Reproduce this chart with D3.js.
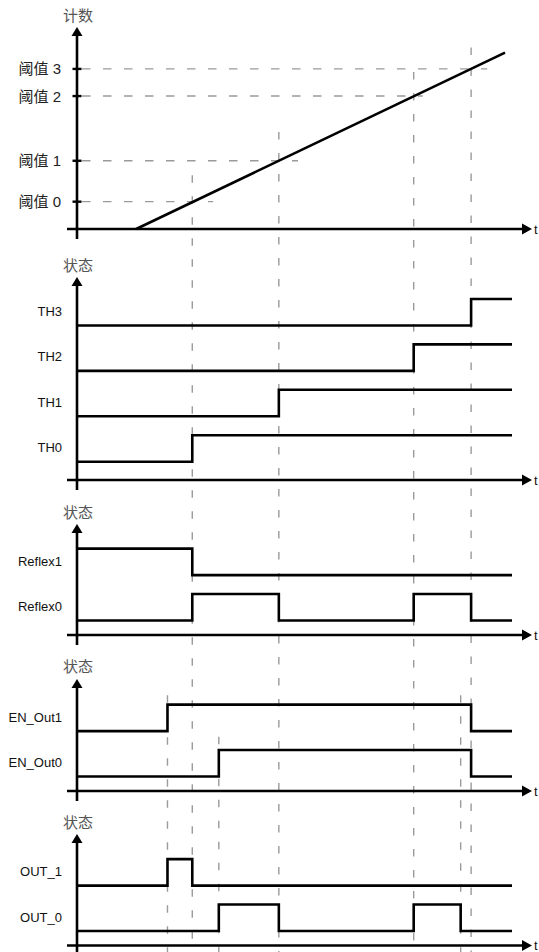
<!DOCTYPE html>
<html>
<head>
<meta charset="utf-8">
<script src="https://cdn.jsdelivr.net/npm/d3@7"></script>
<style>
  html, body { margin: 0; padding: 0; background: #fff; }
  svg { display: block; }
  text { font-family: "Liberation Sans", Arial, "Noto Sans CJK SC", sans-serif; }
</style>
</head>
<body>
<svg id="chart" width="539" height="952"></svg>
<script>
// ---------------- DATA (time in abstract units 0..100) ----------------
const timeDomain = [0, 100];
const countDomain = [0, 10];

const thresholdLabels = ["阈值 0", "阈值 1", "阈值 2", "阈值 3"];
const thresholdCounts = [1.55, 3.87, 7.54, 9.08];
const thresholdDashEnds = [31.3, 50.8, 79.5, 94.3];

const rampTimes = [13.6, 98.4];
const rampCounts = [0, 10];

// event times
const tTH0 = 26.5, tTH1 = 46.4, tTH2 = 77.4, tTH3 = 90.6;
const tEn1 = 20.8, tEn0 = 32.6, tOut0End = 88.2;

// vertical guides: time, top (count units for top panel guides)
const guideTopTimes = [tTH0, tTH1, tTH2, tTH3];
const guideTopCounts = [3.05, 5.5, 8.9, 10.3];
// guides that start in the EN panel: time, row index, level above
const guideEnTimes = [tEn1, tEn0, tOut0End];
const guideEnRows = [1, 0, 1];
const guideEnLevels = [1.35, 1.5, 1.35];

const thNames = ["TH0", "TH1", "TH2", "TH3"];
const thSteps = [
  [[0, 0], [tTH0, 1]],
  [[0, 0], [tTH1, 1]],
  [[0, 0], [tTH2, 1]],
  [[0, 0], [tTH3, 1]]
];
const reflexNames = ["Reflex0", "Reflex1"];
const reflexSteps = [
  [[0, 0], [tTH0, 1], [tTH1, 0], [tTH2, 1], [tTH3, 0]],
  [[0, 1], [tTH0, 0]]
];
const enNames = ["EN_Out0", "EN_Out1"];
const enSteps = [
  [[0, 0], [tEn0, 1], [tTH3, 0]],
  [[0, 0], [tEn1, 1], [tTH3, 0]]
];
const outNames = ["OUT_0", "OUT_1"];
const outSteps = [
  [[0, 0], [tEn0, 1], [tTH1, 0], [tTH2, 1], [tOut0End, 0]],
  [[0, 0], [tEn1, 1], [tTH0, 0]]
];

const countTitle = "计数";
const stateTitle = "状态";
const axisEndLabel = "t";

// ---------------- LAYOUT ----------------
const svg = d3.select("#chart");
const x = d3.scaleLinear().domain(timeDomain).range([77, 512]);
const yCount = d3.scaleLinear().domain(countDomain).range([229, 52.7]);

const panels = [
  { title: countTitle, titleY: 15, tip: 27, axisY: 229, bottom: 239 },
  { title: stateTitle, titleY: 265, tip: 277, axisY: 480, bottom: 490, firstLow: 461.7, names: thNames, steps: thSteps },
  { title: stateTitle, titleY: 512, tip: 524, axisY: 635, bottom: 645, firstLow: 620.5, names: reflexNames, steps: reflexSteps },
  { title: stateTitle, titleY: 666, tip: 679, axisY: 791, bottom: 801, firstLow: 776.5, names: enNames, steps: enSteps },
  { title: stateTitle, titleY: 822, tip: 834, axisY: 945.5, bottom: 962, firstLow: 931, names: outNames, steps: outSteps }
];
const rowStep = 45.4, amp = 26.5;
panels.forEach(p => {
  if (p.names) {
    p.row = d3.scaleLinear().domain([0, 1]).range([p.firstLow, p.firstLow - rowStep]);
    p.level = (r, v) => p.row(r) - v * amp;
  }
});

const dashColor = "#9a9a9a";
const gGuides = svg.append("g");

// horizontal threshold dashes
gGuides.selectAll("line.th").data(thresholdCounts).join("line")
  .attr("x1", x(0) + 5).attr("x2", (d, i) => x(thresholdDashEnds[i]))
  .attr("y1", d => yCount(d)).attr("y2", d => yCount(d))
  .attr("stroke", dashColor).attr("stroke-width", 1.4)
  .attr("stroke-dasharray", "8.5,12.5");

// vertical guides from top panel
gGuides.selectAll("line.vt").data(guideTopTimes).join("line")
  .attr("x1", d => x(d)).attr("x2", d => x(d))
  .attr("y1", (d, i) => yCount(guideTopCounts[i])).attr("y2", 952)
  .attr("stroke", dashColor).attr("stroke-width", 1.4)
  .attr("stroke-dasharray", "7.5,13.5");

// vertical guides from EN panel
const enP = panels[3];
gGuides.selectAll("line.ve").data(guideEnTimes).join("line")
  .attr("x1", d => x(d)).attr("x2", d => x(d))
  .attr("y1", (d, i) => enP.level(guideEnRows[i], guideEnLevels[i])).attr("y2", 952)
  .attr("stroke", dashColor).attr("stroke-width", 1.4)
  .attr("stroke-dasharray", "7.5,13.5");

// ramp
const rampLine = d3.line().x(d => x(d[0])).y(d => yCount(d[1]));
svg.append("path")
  .attr("d", rampLine(rampTimes.map((t, i) => [t, rampCounts[i]])))
  .attr("fill", "none").attr("stroke", "#000").attr("stroke-width", 2.6);

// threshold ticks + labels
svg.selectAll("line.tk").data(thresholdCounts).join("line")
  .attr("x1", x(0) - 4.5).attr("x2", x(0) + 4.5)
  .attr("y1", d => yCount(d)).attr("y2", d => yCount(d))
  .attr("stroke", "#000").attr("stroke-width", 2.4);
svg.selectAll("text.tl").data(thresholdLabels).join("text")
  .attr("x", 61).attr("y", (d, i) => yCount(thresholdCounts[i]))
  .attr("text-anchor", "end").attr("dominant-baseline", "central")
  .attr("font-size", 15).attr("fill", "#222")
  .text(d => d);

// signals
const stepLine = d3.line().curve(d3.curveStepAfter);
panels.forEach(p => {
  if (!p.names) return;
  p.names.forEach((name, r) => {
    const st = p.steps[r];
    const pts = st.concat([[timeDomain[1], st[st.length - 1][1]]]);
    svg.append("path")
      .attr("d", stepLine(pts.map(d => [x(d[0]), p.level(r, d[1])])))
      .attr("fill", "none").attr("stroke", "#000").attr("stroke-width", 2.6)
      .attr("stroke-linejoin", "miter");
    svg.append("text")
      .attr("x", 62).attr("y", p.level(r, 0) - 14)
      .attr("text-anchor", "end").attr("dominant-baseline", "central")
      .attr("font-size", 13).attr("fill", "#111")
      .text(name);
  });
});

// axes
panels.forEach(p => {
  const ax = x(0);
  svg.append("line").attr("x1", ax).attr("x2", ax)
    .attr("y1", p.tip + 7).attr("y2", p.bottom)
    .attr("stroke", "#000").attr("stroke-width", 2.6);
  svg.append("path")
    .attr("d", `M${ax},${p.tip} L${ax - 5.5},${p.tip + 9} L${ax + 5.5},${p.tip + 9} Z`)
    .attr("fill", "#000");
  svg.append("line").attr("x1", ax - 10).attr("x2", 524)
    .attr("y1", p.axisY).attr("y2", p.axisY)
    .attr("stroke", "#000").attr("stroke-width", 2.6);
  svg.append("path")
    .attr("d", `M532,${p.axisY} L522,${p.axisY - 5.5} L522,${p.axisY + 5.5} Z`)
    .attr("fill", "#000");
  svg.append("text").attr("x", 534).attr("y", p.axisY)
    .attr("dominant-baseline", "central").attr("font-size", 13).attr("fill", "#111")
    .text(axisEndLabel);
  svg.append("text").attr("x", ax + 1).attr("y", p.titleY)
    .attr("text-anchor", "middle").attr("dominant-baseline", "central")
    .attr("font-size", 15).attr("fill", "#555")
    .text(p.title);
});
</script>
</body>
</html>
